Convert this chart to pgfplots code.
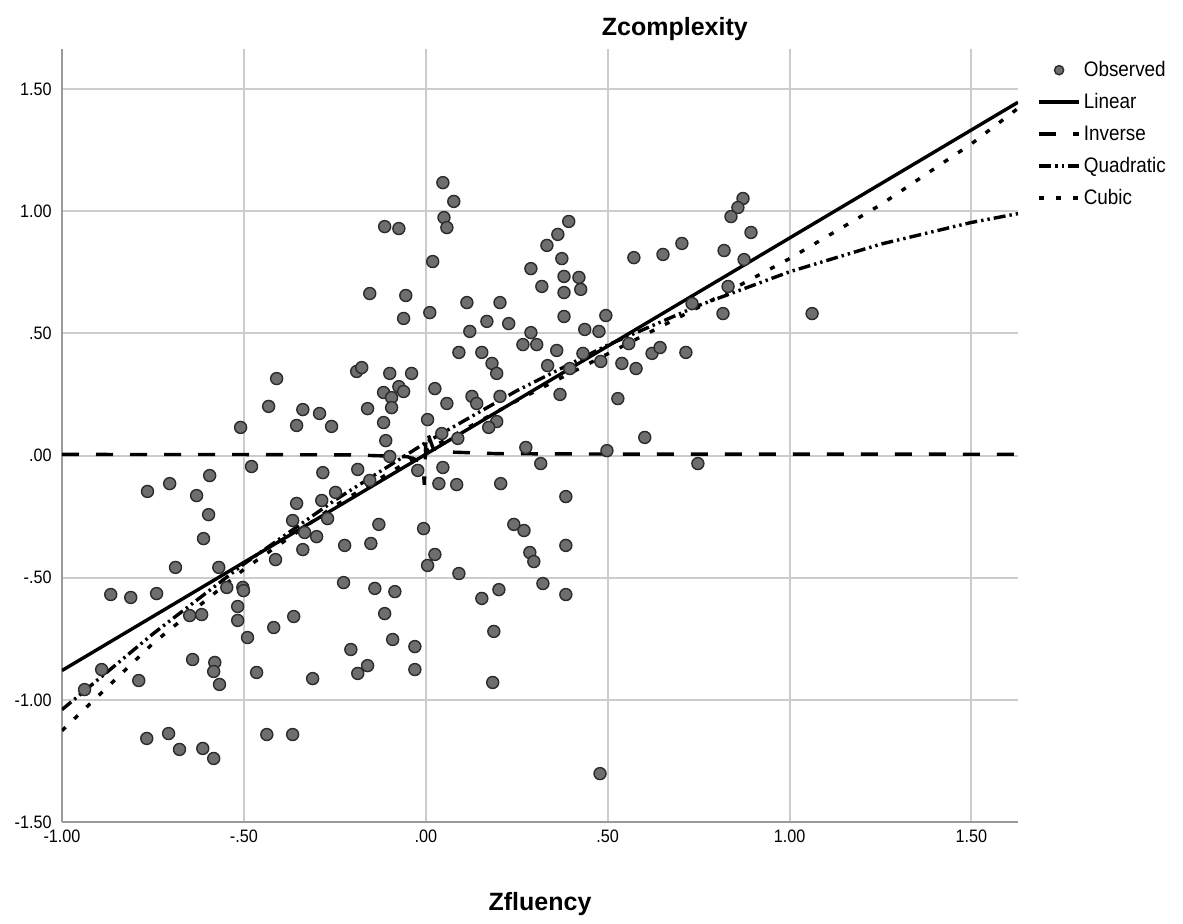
\documentclass[border=0pt]{standalone}
\usepackage{fontspec}
\setmainfont{Liberation Sans}[FakeStretch=0.9]
\newfontfamily\titlefont{Liberation Sans}
\usepackage{pgfplots}
\pgfplotsset{compat=1.18}
\definecolor{gridgray}{HTML}{CCCCCC}
\definecolor{axisgray}{HTML}{9A9A9A}
\definecolor{markfill}{HTML}{6E6E6E}
\definecolor{markdraw}{HTML}{2B2B2B}
\pgfplotsset{
  lineleg/.style={legend image code/.code={\draw[##1] (0pt,0pt) -- (20pt,0pt);}},
  markleg/.style={legend image code/.code={\draw[##1,mark size=2.3pt] plot coordinates {(10pt,0pt)};}},
}
\begin{document}
\begin{tikzpicture}
\path[use as bounding box] (0,0) rectangle (591.5pt,462pt);
\begin{axis}[
  at={(31pt,51pt)}, anchor=south west,
  scale only axis, width=478pt, height=386.5pt,
  xmin=-1, xmax=1.628, ymin=-1.5, ymax=1.664,
  axis x line*=bottom, axis y line*=left,
  axis line style={-, axisgray, line width=1pt},
  xtick={-1,-0.5,0,0.5,1,1.5},
  xticklabels={-1.00,-.50,.00,.50,1.00,1.50},
  ytick={-1.5,-1,-0.5,0,0.5,1,1.5},
  yticklabels={-1.50,-1.00,-.50,.00,.50,1.00,1.50},
  major tick length=0pt,
  grid=major, major grid style={gridgray, line width=1pt},
  xticklabel style={font=\fontsize{9}{10}\selectfont, inner sep=0pt, anchor=north, yshift=-4pt},
  yticklabel style={font=\fontsize{9}{10}\selectfont, inner sep=0pt, anchor=east, xshift=-5pt},
  title={Zcomplexity},
  title style={at={(0.641,1)}, anchor=base, yshift=0.5pt, font=\titlefont\bfseries\fontsize{12.5}{14}\selectfont},
  xlabel={Zfluency},
  xlabel style={at={(0.5,0)}, anchor=base, yshift=-44.5pt, font=\titlefont\bfseries\fontsize{12.5}{14}\selectfont},
  legend style={at={(1.0136,0.999)}, anchor=north west, draw=none, fill=none,
    font=\fontsize{10.5}{12}\selectfont,
    nodes={inner sep=0pt, text height=11pt, text depth=5pt},
    column sep=1.5pt, row sep=0pt},
  legend cell align=left,
]
\addplot[only marks, mark=*, mark size=3pt,
  mark options={fill=markfill, draw=markdraw, line width=0.7pt}, markleg]
coordinates {
(-0.509,0.115) (-0.479,-0.045) (-0.594,-0.082) (-0.704,-0.115) (-0.765,-0.147)
(-0.630,-0.164) (-0.597,-0.242) (-0.611,-0.340) (-0.688,-0.458) (-0.569,-0.458)
(-0.547,-0.540) (-0.503,-0.540) (-0.501,-0.553) (-0.866,-0.569) (-0.811,-0.581)
(-0.740,-0.565) (-0.517,-0.618) (-0.517,-0.675) (-0.490,-0.745) (-0.649,-0.655)
(-0.616,-0.651) (-0.641,-0.835) (-0.580,-0.847) (-0.583,-0.884) (-0.567,-0.937)
(-0.465,-0.888) (-0.891,-0.876) (-0.938,-0.958) (-0.789,-0.921) (-0.767,-1.158)
(-0.707,-1.138) (-0.677,-1.203) (-0.613,-1.199) (-0.583,-1.240)
(0.047,1.117) (0.077,1.040) (0.050,0.974) (0.058,0.933) (-0.113,0.937)
(-0.074,0.929) (0.019,0.794) (-0.154,0.663) (-0.055,0.655) (-0.061,0.561)
(0.011,0.585) (0.113,0.626) (0.091,0.422) (-0.410,0.315) (-0.190,0.344)
(-0.176,0.360) (-0.099,0.336) (-0.039,0.336)
(-0.074,0.282) (-0.061,0.262) (-0.116,0.258) (-0.094,0.237) (-0.094,0.196)
(0.025,0.274) (0.058,0.213) (-0.432,0.201) (-0.338,0.188) (-0.292,0.172)
(-0.355,0.123) (-0.259,0.119) (-0.160,0.192) (-0.116,0.135) (-0.110,0.061)
(0.005,0.147) (0.044,0.090) (0.088,0.070) (-0.099,-0.004) (-0.283,-0.070)
(-0.187,-0.057) (-0.154,-0.102) (-0.022,-0.061) (0.047,-0.049) (0.036,-0.115)
(0.085,-0.119) (-0.248,-0.151) (-0.286,-0.184) (-0.355,-0.196) (-0.366,-0.266)
(-0.270,-0.258) (-0.333,-0.315) (-0.300,-0.332) (-0.129,-0.282) (-0.006,-0.299)
(-0.338,-0.385) (-0.223,-0.368) (-0.151,-0.360) (-0.413,-0.426) (0.025,-0.405)
(0.005,-0.450) (0.091,-0.483) (-0.226,-0.520) (-0.140,-0.544) (-0.085,-0.557)
(-0.363,-0.659) (-0.418,-0.704) (-0.113,-0.647) (-0.091,-0.753) (-0.030,-0.782)
(-0.206,-0.794) (-0.160,-0.860) (-0.187,-0.892) (-0.030,-0.876) (-0.311,-0.913)
(-0.437,-1.142) (-0.366,-1.142)
(0.393,0.958) (0.363,0.905) (0.333,0.860) (0.374,0.806) (0.289,0.765)
(0.380,0.733) (0.421,0.729) (0.319,0.692) (0.380,0.667) (0.426,0.680)
(0.572,0.810) (0.652,0.823) (0.204,0.626) (0.168,0.549) (0.228,0.540)
(0.121,0.508) (0.289,0.503) (0.380,0.569) (0.495,0.573) (0.437,0.516)
(0.476,0.508) (0.154,0.422) (0.182,0.377) (0.195,0.336) (0.267,0.454)
(0.305,0.454) (0.360,0.430) (0.432,0.418) (0.335,0.368) (0.396,0.356)
(0.481,0.385) (0.539,0.377) (0.578,0.356) (0.622,0.418) (0.644,0.442)
(0.558,0.458)
(0.127,0.242) (0.140,0.213) (0.204,0.242) (0.195,0.139) (0.173,0.115)
(0.369,0.250) (0.528,0.233) (0.602,0.074) (0.275,0.033) (0.498,0.020)
(0.316,-0.033) (0.206,-0.115) (0.385,-0.168) (0.242,-0.282) (0.270,-0.307)
(0.286,-0.397) (0.297,-0.434) (0.385,-0.368) (0.201,-0.549) (0.322,-0.524)
(0.154,-0.585) (0.385,-0.569) (0.187,-0.720) (0.184,-0.929) (0.479,-1.302)
(0.872,1.052) (0.858,1.015) (0.839,0.978) (0.894,0.913) (0.704,0.868)
(0.820,0.839) (0.875,0.802) (0.831,0.692) (0.732,0.622) (0.817,0.581)
(1.062,0.581) (0.715,0.422) (0.748,-0.033)
};
\addlegendentry{Observed}
\addplot[black, line width=1.7pt, lineleg]
coordinates {(-1,-0.880) (1.628,1.446)};
\addlegendentry{Linear}
\addplot[black, line width=1.7pt, dash pattern=on 8.5pt off 8.5pt, lineleg]
coordinates {(-1,0.0045) (-0.5,0.004) (-0.2,0.0025) (-0.05,-0.005) (-0.02,-0.02)
 (-0.006,-0.078) (-0.004,-0.12) (0.003,0.172) (0.006,0.088) (0.02,0.03)
 (0.05,0.015) (0.2,0.0075) (0.5,0.006) (1.628,0.0053)};
\addlegendentry{Inverse}
\addplot[black, line width=1.7pt, dash pattern=on 6pt off 2pt on 1.2pt off 2pt on 1.2pt off 2pt, lineleg]
coordinates {(-1,-1.040) (-0.75,-0.730) (-0.5,-0.444) (-0.25,-0.183) (0,0.053)
 (0.25,0.265) (0.5,0.452) (0.75,0.614) (1.0,0.752) (1.25,0.865) (1.5,0.954) (1.628,0.990)};
\addlegendentry{Quadratic}
\addplot[black, line width=1.7pt, dash pattern=on 2.5pt off 6pt, lineleg]
coordinates {(-1,-1.126) (-0.75,-0.769) (-0.5,-0.466) (-0.25,-0.206) (0,0.020)
 (0.25,0.224) (0.5,0.416) (0.75,0.607) (1.0,0.806) (1.25,1.026) (1.5,1.276) (1.628,1.421)};
\addlegendentry{Cubic}
\end{axis}
\end{tikzpicture}
\end{document}
